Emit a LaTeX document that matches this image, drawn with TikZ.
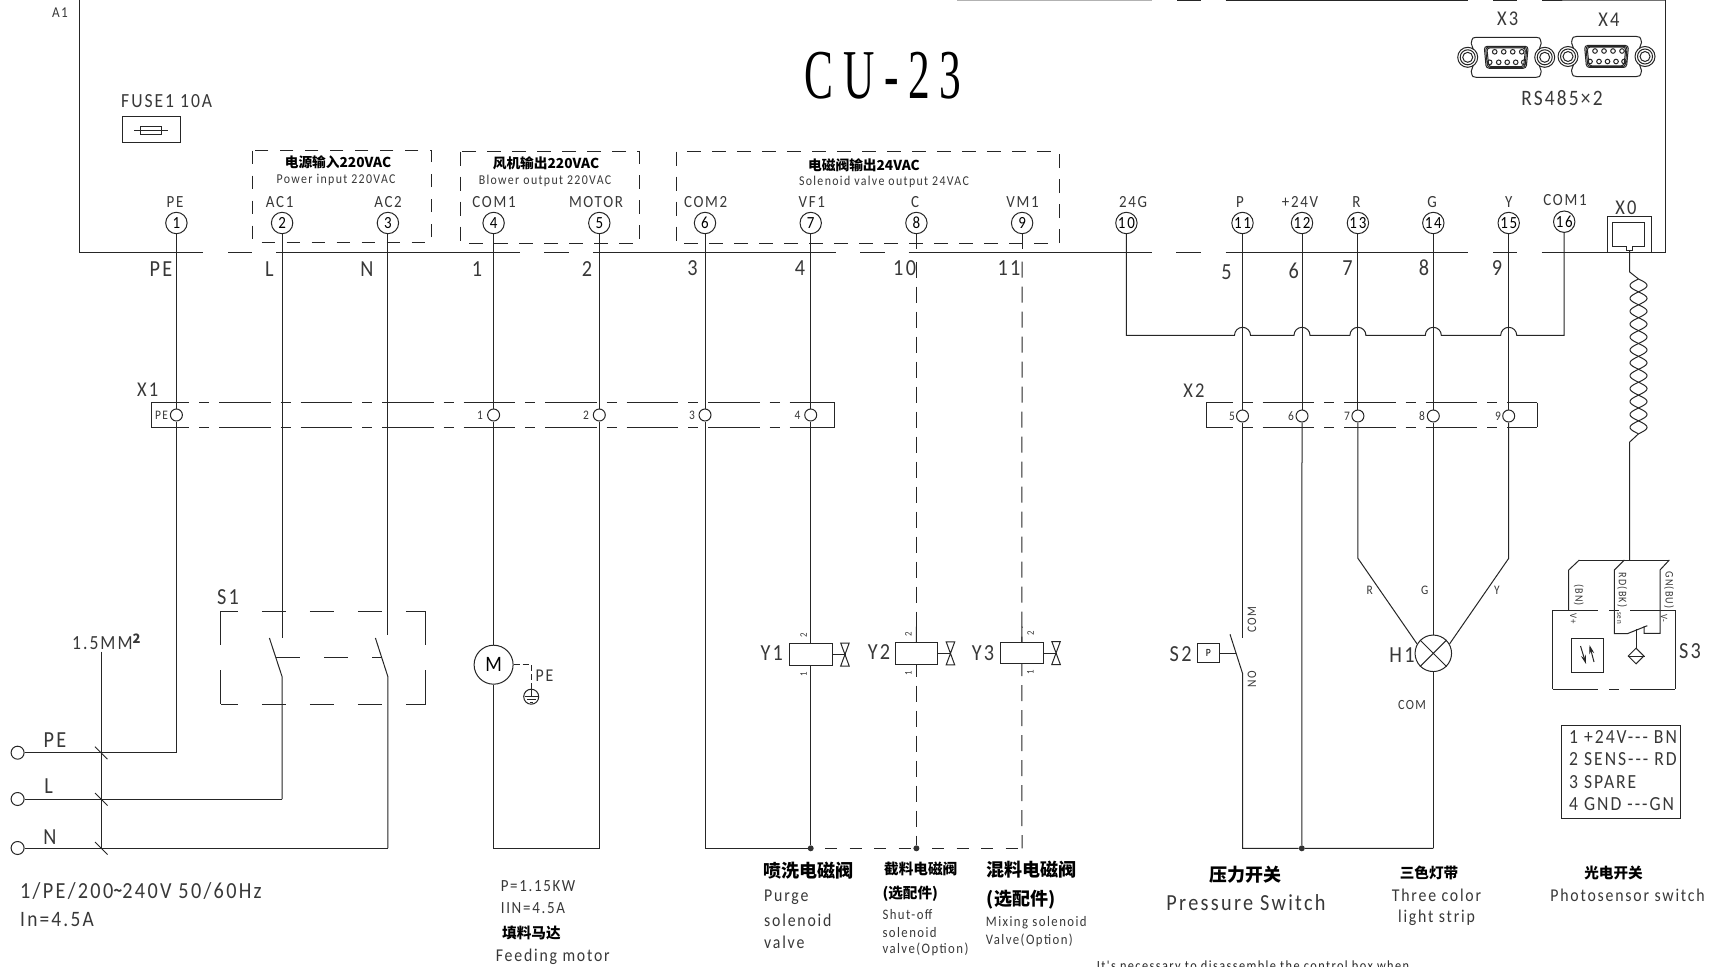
\documentclass[tikz,border=0pt]{standalone}
\usepackage{fontspec}
\usetikzlibrary{arrows.meta,shapes.geometric}
\newfontfamily\cad[FakeStretch=0.88,LetterSpace=10]{Carlito}
\newfontfamily\cjk{Noto Sans CJK SC}
\newfontfamily\ttl[FakeStretch=0.62,LetterSpace=14]{Liberation Serif}
\newcommand\tx[1]{\cad\fontsize{#1}{#1}\selectfont}
\newcommand\zh[1]{\cjk\bfseries\fontsize{#1}{#1}\selectfont}
\tikzset{
  wire/.style={line width=1pt,draw=black!85},
  optwire/.style={wire,dash pattern=on 16pt off 9pt},
  term/.style={circle,draw=black!85,line width=1pt,minimum size=21.4pt,inner sep=0pt,font=\tx{17}},
  jct/.style={circle,draw=black!85,line width=1pt,fill=white,minimum size=12pt,inner sep=0pt},
  dot/.style={circle,fill=black!80,minimum size=6pt,inner sep=0pt},
  lbl/.style={inner sep=0pt,font=\tx{20},text=black!78},
  lft/.style={lbl,anchor=west},
  gbox/.style={wire,dash pattern=on 14pt off 11pt},
  comp/.style={draw=black!85,line width=1pt,inner sep=0pt,fill=white},
}
\newcommand\dsub[2]{%
  \begin{scope}[shift={(#1,#2)},wire]
    \draw (-35,-14) .. controls (-34,-20) and (-33,-20) .. (-30,-20) -- (30,-20) .. controls (33,-20) and (34,-20) .. (35,-14) -- (33,-8);
    \draw (33,8) -- (35,14) .. controls (34,20) and (33,20) .. (30,20) -- (-30,20) .. controls (-33,20) and (-34,20) .. (-35,14) -- (-33,8);
    \draw (-35,-14) -- (-33,-8);
    \foreach \s in {-38.5,38.5}{
      \draw (\s,0) circle[radius=10];
      \draw (\s,0) circle[radius=7.5];
      \draw (\s,0) circle[radius=5];
    }
    \foreach \d in {0,1.3,2.6}{
      \draw[rounded corners=3pt] (-22+\d,-11+\d*.6) -- (22-\d,-11+\d*.6) -- (20-\d,11-\d*.6) -- (-20+\d,11-\d*.6) -- cycle;
    }
    \foreach \px in {-11,-2,7,16}{\draw (\px-.5,-5.5) circle[radius=2.3];}
    \foreach \px in {-16,-7,1.5,10,18}{\draw (\px-.5,5) circle[radius=2.3];}
  \end{scope}}
\begin{document}
\begin{tikzpicture}[x=1pt,y=-1pt]
\useasboundingbox (0,0) rectangle (1715,966);
\fill[white] (0,0) rectangle (1715,966);

% frame and bus
\coordinate (tl) at (79.6,0);
\coordinate (bl) at (79.6,252.7);
\coordinate (br) at (1665.5,252.7);
\coordinate (tr) at (1665.5,0);
\draw[wire] (tl) -- (bl);
\draw[wire] (br) -- (tr);
\draw[wire,dash pattern=on 123.4pt off 25pt on 24pt off 24pt on 244pt off 24pt on 24.6pt off 24.4pt on 243pt off 24pt on 25pt off 23.6pt on 243.4pt off 24pt on 25pt off 24.5pt on 242.5pt off 25pt on 24pt off 24.6pt on 130pt off 10pt] (bl) -- (br);
\coordinate (ta) at (1225.5,0.3);
\draw[wire] (1177,0.3) -- (1201,0.3);
\draw[wire] (ta) -- (1468,0.3);
\draw[wire] (1493,0.3) -- (1517,0.3);
\draw[wire] (1542,0.3) -- (tr);
\draw[line width=1pt,black!30] (957,0.3) -- (1152,0.3);

\node[lbl,font=\tx{15}] (a1) at (60,13) {A1};
\node[inner sep=0pt,font=\ttl\fontsize{70}{70}\selectfont] (title) at (883,76) {CU-23};

% fuse
\node[lft] (fuselbl) at (121,101) {FUSE1 10A};
\draw[wire] (122.5,116.7) rectangle (180,142.3);
\draw[wire] (134,130) -- (168,130);
\draw[wire] (140.4,126) rectangle (161.8,134);

% group boxes
\draw[gbox,dash pattern=on 13pt off 12pt] (252.9,150.7) rectangle (431.8,242);
\draw[gbox] (460.7,151.7) rectangle (639.3,243.3);
\draw[gbox] (676,151.7) rectangle (1059.3,243.3);
\node[inner sep=0pt,font=\zh{13.7}] (h1) at (338,162.5) {电源输入220VAC};
\node[lbl,font=\tx{13.5}] (h1e) at (336,180) {Power input 220VAC};
\node[inner sep=0pt,font=\zh{13.7}] (h2) at (546,163) {风机输出220VAC};
\node[lbl,font=\tx{13.5}] (h2e) at (545,181) {Blower output 220VAC};
\node[inner sep=0pt,font=\zh{13.7}] (h3) at (864,165) {电磁阀输出24VAC};
\node[lbl,font=\tx{13.5}] (h3e) at (884,182.3) {Solenoid valve output 24VAC};

% terminals
\node[term] (t1) at (176.4,223) {1};
\node[term] (t2) at (282.1,223) {2};
\node[term] (t3) at (387.9,223) {3};
\node[term] (t4) at (493.6,223) {4};
\node[term] (t5) at (599.3,223) {5};
\node[term] (t6) at (705,223) {6};
\node[term] (t7) at (810.7,223) {7};
\node[term] (t8) at (916.4,223) {8};
\node[term] (t9) at (1022.1,223) {9};
\node[term] (t10) at (1126.4,223) {10};
\node[term] (t11) at (1242.5,223) {11};
\node[term] (t12) at (1302,223) {12};
\node[term] (t13) at (1357.9,223) {13};
\node[term] (t14) at (1433.3,223) {14};
\node[term] (t15) at (1508.7,223) {15};
\node[term] (t16) at (1564.2,221.7) {16};
\foreach \n/\x/\t in {a/175/PE,b/279.6/AC1,c/388/AC2,d/494/COM1,e/596/MOTOR,f/705.7/COM2,g/811.8/VF1,h/915/C,i/1022.5/VM1,j/1133/24G,k/1240/P,l/1300/+24V,m/1356.5/R,n/1432/G,o/1508.7/Y}
  \node[lbl,font=\tx{17}] (tl\n) at (\x,201.7) {\t};
\node[lbl,font=\tx{17}] (tlp) at (1565,200) {COM1};

% bus labels
\foreach \n/\x/\y/\t in {a/161/269/PE,b/269.5/269/L,c/367/269/N,d/477/269/1,e/587/269/2,f/692.5/268/3,g/800/268/4,h/904.6/268/10,i/1009/268/11,j/1226.5/271.7/5,k/1293.8/271/6,l/1347.6/268/7,m/1424/268/8,n/1497/268/9}
  \node[lbl,font=\tx{23}] (bl\n) at (\x,\y) {\t};

% X1 strip
\node[lbl,font=\tx{21}] (x1) at (147.7,390) {X1};
\draw[wire] (834.6,402.7) -- (834.6,427.7);
\draw[wire] (151,402.7) -- (151,427.7);
\draw[wire,dash pattern=on 51.5pt off 10pt on 10pt off 10pt,dash phase=13.5pt] (151,402.7) -- (834.6,402.7);
\draw[wire,dash pattern=on 51.5pt off 10pt on 10pt off 10pt,dash phase=13.5pt] (151,427.7) -- (834.6,427.7);
% X2 strip
\node[lbl,font=\tx{21}] (x2) at (1194,390.7) {X2};
\draw[wire] (1206,402.7) -- (1206,427.3);
\draw[wire] (1537.3,402.7) -- (1537.3,427.3);
\draw[wire,dash pattern=on 51.5pt off 10pt on 10pt off 10pt,dash phase=25pt] (1206,402.7) -- (1537.3,402.7);
\draw[wire,dash pattern=on 51.5pt off 10pt on 10pt off 10pt,dash phase=25pt] (1206,427.3) -- (1537.3,427.3);

\node[jct] (j1) at (176.4,415) {};
\node[jct] (j4) at (493.6,415) {};
\node[jct] (j5) at (599.3,415) {};
\node[jct] (j6) at (705,415) {};
\node[jct] (j7) at (810.7,415) {};
\node[jct] (j11) at (1242.5,416) {};
\node[jct] (j12) at (1302,416) {};
\node[jct] (j13) at (1357.9,416) {};
\node[jct] (j14) at (1433.3,416) {};
\node[jct] (j15) at (1508.7,416) {};
\foreach \n/\x/\y/\t in {a/161.5/415/PE,b/480/415/1,c/586/415/2,d/692/415/3,e/797.5/415/4,f/1232/416/5,g/1291/416/6,h/1347/416/7,i/1422/416/8,j/1498/416/9}
  \node[lbl,font=\tx{13}] (jl\n) at (\x,\y) {\t};

% mains
\node[comp,circle,minimum size=13pt] (pe) at (17.6,752.7) {};
\node[comp,circle,minimum size=13pt] (ll) at (17.6,799) {};
\node[comp,circle,minimum size=13pt] (nn) at (17.6,848) {};
\coordinate (cPE) at (176.4,752.7);
\coordinate (cL) at (282.1,799);
\coordinate (cN) at (387.9,848);
\draw[wire] (t1.south) -- (j1.north);
\draw[wire] (j1.south) -- (cPE) -- (pe.east);
\draw[wire] (cL) -- (ll.east);
\draw[wire] (cN) -- (nn.east);
\node[lbl,font=\tx{23}] (lpe) at (55,740) {PE};
\node[lbl,font=\tx{23}] (lL) at (48.6,786) {L};
\node[lbl,font=\tx{23}] (lN) at (49.8,836.7) {N};
\coordinate (bt) at (101.4,651.7);
\coordinate (bb) at (101.4,848);
\draw[wire] (bt) -- (bb);
\foreach \y in {752.7,799,848}
  \draw[wire,line width=.8pt] (95,\y-6) -- (107.5,\y+6.5);
\node[lft,font=\tx{20}] (wire) at (72,641.7) {1.5MM\raisebox{6pt}{\cjk\bfseries\fontsize{13}{13}\selectfont 2}};

% S1
\node[lbl,font=\tx{23}] (s1) at (228,596.7) {S1};
\coordinate (s1a) at (282.1,638.3);
\coordinate (s1b) at (282.1,676.7);
\coordinate (s1c) at (387.9,635);
\coordinate (s1d) at (387.9,676.7);
\coordinate (bl1) at (269.4,638);
\coordinate (bl2) at (375.4,638);
\draw[wire] (t2.south) -- (s1a);
\draw[wire] (bl1) -- (s1b) -- (cL);
\draw[wire] (t3.south) -- (s1c);
\draw[wire] (bl2) -- (s1d) -- (cN);
\draw[wire,dash pattern=on 24pt off 24pt,dash phase=7pt] (220.8,611) -- (425.6,611);
\draw[wire,dash pattern=on 24pt off 24pt,dash phase=7pt] (220.8,704.3) -- (425.6,704.3);
\draw[wire,dash pattern=on 34pt off 25pt] (220.8,611) -- (220.8,704.3);
\draw[wire,dash pattern=on 34pt off 25pt] (425.6,611) -- (425.6,704.3);
\draw[wire,dash pattern=on 24pt off 24pt] (276,657.7) -- (382,657.7);

% motor
\node[comp,circle,minimum size=39pt,font=\tx{22}] (m) at (493.6,664.7) {M};
\coordinate (mb) at (493.6,848.3);
\coordinate (mc) at (599.3,848.3);
\draw[wire] (t4.south) -- (j4.north);
\draw[wire] (j4.south) -- (m.north);
\draw[wire] (m.south) -- (mb) -- (mc) -- (j5.south);
\draw[wire] (t5.south) -- (j5.north);
\node[comp,circle,minimum size=15pt,fill=none] (gnd) at (531.2,696.7) {};
\draw[wire,dash pattern=on 6pt off 3pt] (m.east) -- (531.2,664.7) -- (gnd.north);
\draw[wire] (525,696) -- (537.5,696) (527,699.5) -- (535.5,699.5) (529.5,702.5) -- (533,702.5) (531.2,690) -- (531.2,696);
\node[lft,font=\tx{18}] (lpe2) at (535.5,675.7) {PE};

% solenoids
\node[comp,minimum width=43pt,minimum height=21.6pt] (y1) at (810.7,654.5) {};
\node[comp,minimum width=42.7pt,minimum height=21.4pt] (y2) at (916.4,653.4) {};
\node[comp,minimum width=43pt,minimum height=21.4pt] (y3) at (1021.8,653) {};
\foreach \n/\x/\y in {1/832.2/654.5,2/937.7/653.4,3/1043.3/653}{
  \draw[wire] (y\n.east) -- (\x+13.5,\y);
  \draw[wire] (\x+8.5,\y-11.5) -- (\x+17,\y-11.5) -- (\x+8.5,\y+11.5) -- (\x+17,\y+11.5) -- cycle;
}
\foreach \n/\x/\y/\t in {a/771.7/653/Y1,b/879/652/Y2,c/983/653/Y3}
  \node[lbl,font=\tx{23}] (yl\n) at (\x,\y) {\t};
\foreach \x/\y in {803.7/0,908.3/-1,1030.5/-2}{
  \node[lbl,font=\tx{10},rotate=90] at (\x,635.7+\y) {2};
  \node[lbl,font=\tx{10},rotate=90] at (\x,674+\y) {1};
}
\coordinate (bq) at (705,848.3);
\node[dot] (d1) at (810.7,848.3) {};
\node[dot] (d2) at (916.4,848.3) {};
\coordinate (bq2) at (1022,848.3);
\draw[wire] (t6.south) -- (j6.north);
\draw[wire] (j6.south) -- (bq) -- (d1);
\draw[wire] (t7.south) -- (j7.north);
\draw[wire] (j7.south) -- (y1.north);
\draw[wire] (y1.south) -- (d1);
\draw[wire,dash pattern=on 12pt off 12.5pt,dash phase=13.2pt] (d1) -- (d2);
\draw[wire,dash pattern=on 12pt off 12.5pt,dash phase=12pt] (d2) -- (bq2);
\coordinate (t8a) at (916.4,249.3);
\coordinate (t8b) at (916.4,261.7);
\coordinate (t9a) at (1022.1,249.3);
\coordinate (t9b) at (1022.1,261.7);
\draw[wire] (t8.south) -- (t8a);
\draw[wire] (t9.south) -- (t9a);
\draw[optwire] (t8b) -- (y2.north);
\draw[optwire] (t9b) -- (y3.north);
\draw[optwire,dash phase=4pt] (y2.south) -- (d2);
\draw[optwire,dash phase=4pt] (y3.south) -- (bq2);
\draw[wire] (916.4,626.7) -- (y2.north) (1022,626.7) -- (y3.north);

% 24G return with hops
\coordinate (r0) at (1126.4,335.3);
\coordinate (r1) at (1564.2,335.3);
\draw[wire] (t10.south) -- (r0)
  -- (1234.5,335.3) arc[start angle=180,end angle=360,radius=8]
  -- (1294,335.3) arc[start angle=180,end angle=360,radius=8]
  -- (1349.9,335.3) arc[start angle=180,end angle=360,radius=8]
  -- (1425.3,335.3) arc[start angle=180,end angle=360,radius=8]
  -- (1500.7,335.3) arc[start angle=180,end angle=360,radius=8]
  -- (r1) -- (t16.south);
\foreach \i/\x in {11/1242.5,12/1302,13/1357.9,14/1433.3,15/1508.7}
  \draw[wire] (t\i.south) -- (j\i.north);

% S2 pressure switch
\coordinate (s2a) at (1242.5,637.7);
\coordinate (s2b) at (1242.5,673.3);
\coordinate (s2c) at (1230,634.3);
\coordinate (bb1) at (1242.5,848.3);
\node[dot] (d3) at (1301.8,848.3) {};
\coordinate (bb2) at (1433.3,848.3);
\draw[wire] (j11.south) -- (s2a);
\draw[wire] (s2c) -- (s2b) -- (bb1) -- (d3) -- (bb2);
\draw[wire] (j12.south) -- (d3);
\node[comp,minimum width=21.6pt,minimum height=19pt,font=\tx{11}] (s2) at (1208.4,653.2) {P};
\draw[wire] (s2.east) -- (1235.8,653.2);
\node[lbl,font=\tx{23}] (s2l) at (1180.6,654) {S2};
\node[lbl,font=\tx{13},rotate=90] (com) at (1252,620) {COM};
\node[lbl,font=\tx{13},rotate=90] (no) at (1252,679.3) {NO};

% H1
\node[comp,circle,minimum size=36.5pt] (h) at (1433.3,653.3) {};
\draw[wire] (h.45) -- (h.225) (h.135) -- (h.315);
\coordinate (h13) at (1357.9,558.3);
\coordinate (h15) at (1508.7,558.3);
\draw[wire] (j13.south) -- (h13) -- (h.150);
\draw[wire] (j15.south) -- (h15) -- (h.30);
\draw[wire] (j14.south) -- (h.north);
\draw[wire] (h.south) -- (bb2);
\node[lbl,font=\tx{13}] (hr) at (1369.8,590) {R};
\node[lbl,font=\tx{13}] (hg) at (1424.6,590) {G};
\node[lbl,font=\tx{13}] (hy) at (1497,590) {Y};
\node[lbl,font=\tx{23}] (hl) at (1402,655) {H1};
\node[lbl,font=\tx{14}] (hc) at (1412,705) {COM};

% X0
\node[lbl,font=\tx{21}] (x0l) at (1626,208) {X0};
\draw[wire] (1607.7,252.7) -- (1607.7,216.7) -- (1651.7,216.7) -- (1651.7,252.7);
\draw[wire] (1612.3,222) -- (1644.3,222) -- (1644.3,246.7) -- (1632.8,246.7) -- (1632.8,250.7) -- (1626,250.7) -- (1626,246.7) -- (1612.3,246.7) -- cycle;
\coordinate (x0a) at (1629.7,250.7);
\coordinate (x0b) at (1629.7,272);
\coordinate (x0c) at (1629.7,442);
\coordinate (x0d) at (1629.7,560);
\draw[wire] (x0a) -- (x0b) -- (1638.5,279);
\draw[wire] (1638.5,433.8) -- (x0c) -- (x0d);
\draw[wire] plot[domain=0:12,samples=145] ({1638.5+8.5*sin(\x*180)},{279+12.9*\x});
\draw[wire] plot[domain=0:12,samples=145] ({1638.5-8.5*sin(\x*180)},{279+12.9*\x});

% S3
\coordinate (s3l) at (1579.3,560);
\coordinate (s3r) at (1669.3,560);
\draw[wire] (s3l) -- (s3r);
\draw[wire] (s3l) -- (1568.7,570) -- (1568.7,610);
\draw[wire] (1624.3,560) -- (1614.3,570) -- (1614.3,633.7) -- (1627.3,633.7) -- (1647.3,625.7);
\draw[wire] (s3r) -- (1660,570) -- (1660,633.3) -- (1644,633.3) -- (1644,626);
\draw[wire] (1552.7,610) -- (1552.7,689) (1675.3,610) -- (1675.3,689);
\draw[wire] (1552.7,610) -- (1598.3,610) (1609,610) -- (1619,610) (1630,610) -- (1675.3,610);
\draw[wire] (1552.7,689) -- (1598.3,689) (1609,689) -- (1619,689) (1630,689) -- (1675.3,689);
\node[comp,minimum width=32pt,minimum height=34pt] (em) at (1587.3,655.3) {};
\draw[wire,-{Stealth[length=9pt,width=5pt]}] (1580.5,646) -- (1586,664);
\draw[wire,-{Stealth[length=9pt,width=5pt]}] (1594,662) -- (1589.5,645);
\node[comp,diamond,aspect=1,minimum size=16pt,fill=none] (dm) at (1636,656) {};
\draw[wire] (dm.west) -- (dm.east);
\draw[wire] (1636,629.3) -- (dm.north);
\node[lbl,font=\tx{11.5},rotate=-90] (bn) at (1578.7,595) {(BN)};
\node[lbl,font=\tx{11.5},rotate=-90] (rd) at (1622.3,590) {RD(BK)};
\node[lbl,font=\tx{11.5},rotate=-90] (gn) at (1669,590) {GN(BU)};
\node[lbl,font=\tx{10},rotate=-90] (vp) at (1573.3,618.3) {V+};
\node[lbl,font=\tx{8},rotate=-90] (sen) at (1619,618) {sen};
\node[lbl,font=\tx{10},rotate=-90] (vm) at (1664,618.3) {V-};
\node[lbl,font=\tx{23}] (s3) at (1690,650.7) {S3};

% legend
\draw[wire] (1561.5,725) rectangle (1680.8,818.3);
\node[lft] (l1) at (1569,736.7) {1 +24V--- BN};
\node[lft] (l2) at (1569,759.3) {2 SENS--- RD};
\node[lft] (l3) at (1569,781.7) {3 SPARE};
\node[lft] (l4) at (1569,804.3) {4 GND ---GN};

% connectors
\dsub{1506.2}{57.3}
\dsub{1606.5}{56.5}
\node[lbl,font=\tx{21}] (x3) at (1507.7,19) {X3};
\node[lbl,font=\tx{21}] (x4) at (1609,20) {X4};
\node[lbl,font=\tx{22}] (rs) at (1562,98) {RS485×2};

% captions
\node[lft,font=\tx{23}] (c1) at (20,890.7) {1/PE/200\raisebox{2pt}{\cjk\bfseries\fontsize{15}{15}\selectfont \textasciitilde}240V 50/60Hz};
\node[lft,font=\tx{22}] (c2) at (20,919.3) {In=4.5A};
\node[lft,font=\tx{17}] (c3) at (500.6,886) {P=1.15KW};
\node[lft,font=\tx{17}] (c4) at (500.6,908.3) {IIN=4.5A};
\node[anchor=west,inner sep=0pt,font=\zh{14.6}] (c5) at (502,933.3) {填料马达};
\node[lft,font=\tx{18}] (c6) at (495.6,956.7) {Feeding motor};

\node[anchor=west,inner sep=0pt,font=\zh{18}] (p1) at (763.3,870.7) {喷洗电磁阀};
\node[lft,font=\tx{18}] (p2) at (764,897.7) {Purge};
\node[lft,font=\tx{18}] (p3) at (764,920) {solenoid};
\node[lft,font=\tx{18}] (p4) at (764,942.7) {valve};

\node[anchor=west,inner sep=0pt,font=\zh{14.6}] (q1) at (884,869.3) {截料电磁阀};
\node[anchor=west,inner sep=0pt,font=\zh{14.6}] (q2) at (882.3,893.3) {(选配件)};
\node[lft,font=\tx{14.5}] (q3) at (882.3,915) {Shut-off};
\node[lft,font=\tx{14.5}] (q4) at (882.3,932.3) {solenoid};
\node[lft,font=\tx{14.5}] (q5) at (882.3,949.3) {valve(Option)};

\node[anchor=west,inner sep=0pt,font=\zh{18}] (r1a) at (986.7,869.3) {混料电磁阀};
\node[anchor=west,inner sep=0pt,font=\zh{18}] (r2a) at (986.7,899.3) {(选配件)};
\node[lft,font=\tx{14.5}] (r3a) at (985.7,922.7) {Mixing solenoid};
\node[lft,font=\tx{14.5}] (r4a) at (985.7,940) {Valve(Option)};

\node[inner sep=0pt,font=\zh{18}] (u1) at (1245.5,875) {压力开关};
\node[lbl,font=\tx{23}] (u2) at (1246,902.7) {Pressure Switch};
\node[inner sep=0pt,font=\zh{14.6}] (v1) at (1429,872.7) {三色灯带};
\node[lbl,font=\tx{18}] (v2) at (1436.5,895.3) {Three color};
\node[lbl,font=\tx{18}] (v3) at (1436.5,917.3) {light strip};
\node[inner sep=0pt,font=\zh{14.6}] (w1) at (1613.5,872.7) {光电开关};
\node[lbl,font=\tx{18}] (w2) at (1627.5,895) {Photosensor switch};
\node[anchor=base west,inner sep=0pt,font=\tx{14},text=black!85] (note) at (1096.7,970) {It's necessary to disassemble the control box when};
\end{tikzpicture}
\end{document}
